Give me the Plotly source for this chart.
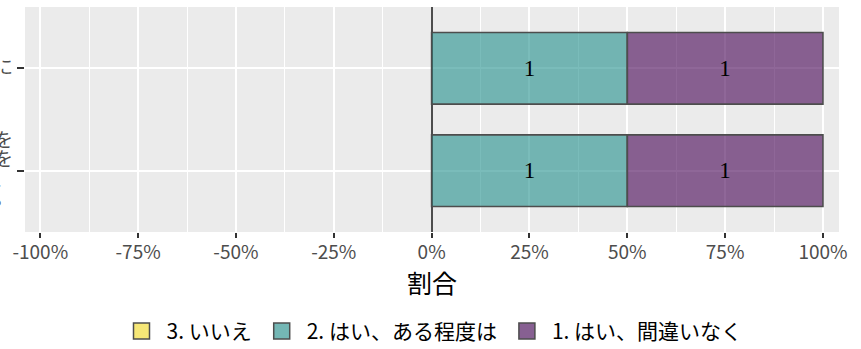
import plotly.graph_objects as go

# ---- data ----
categories = [
    "この研究の目的と内容について十分な説明を<br>受け、研究への参加に同意して、データを<br>提供することについて了承する、<br>最後までお読みください。",
    "この研究について十分な説明を受けたうえで、参加することに",
]
levels = ["3. いいえ", "2. はい、ある程度は", "1. はい、間違いなく"]
counts = {
    "3. いいえ": [0, 0],
    "2. はい、ある程度は": [1, 1],
    "1. はい、間違いなく": [1, 1],
}
colors = {
    "3. いいえ": "rgba(253,231,37,0.6)",
    "2. はい、ある程度は": "rgba(33,144,140,0.6)",
    "1. はい、間違いなく": "rgba(68,1,84,0.6)",
}
legend_colors = {
    "3. いいえ": "#F6E777",
    "2. はい、ある程度は": "#74B7B5",
    "1. はい、間違いなく": "#876092",
}
x_ticks = [-100, -75, -50, -25, 0, 25, 50, 75, 100]
x_ticklabels = ["-100%", "-75%", "-50%", "-25%", "0%", "25%", "50%", "75%", "100%"]

totals = [sum(counts[l][i] for l in levels) for i in range(len(categories))]
pct = {l: [100 * c / t for c, t in zip(counts[l], totals)] for l in levels}

font_jp = "Noto Sans CJK JP"
fig = go.Figure()

# positive stacking: level 2 first (next to zero), then level 1
for lvl in ["2. はい、ある程度は", "1. はい、間違いなく"]:
    fig.add_trace(go.Bar(
        y=categories, x=pct[lvl], orientation="h", width=0.7,
        marker=dict(color=colors[lvl], line=dict(color="#4D4D4D", width=1.6)),
        text=[str(c) for c in counts[lvl]], textposition="inside",
        insidetextanchor="middle", constraintext="none",
        textfont=dict(family="Liberation Serif", size=23, color="black"),
        showlegend=False, hoverinfo="skip",
    ))
# negative side (いいえ) - zero width here
fig.add_trace(go.Bar(
    y=categories, x=[-v for v in pct["3. いいえ"]], orientation="h", width=0.7,
    base=0,
    marker=dict(color=colors["3. いいえ"], line=dict(color="#4D4D4D", width=0)),
    showlegend=False, hoverinfo="skip",
))

# legend entries
for lvl in levels:
    fig.add_trace(go.Scatter(
        x=[None], y=[None], mode="markers", name=lvl,
        marker=dict(symbol="square", size=22, color=legend_colors[lvl],
                    line=dict(color="#4D4D4D", width=1.5)),
        showlegend=True,
    ))

ytext = [f'<span style="font-size:19px">{c}</span>' for c in categories]

fig.update_layout(
    barmode="relative",
    width=861, height=349,
    margin=dict(l=25, r=22, t=7, b=117, autoexpand=False),
    paper_bgcolor="white", plot_bgcolor="#EBEBEB",
    font=dict(family=font_jp, color="#4D4D4D"),
    legend=dict(orientation="h", x=0.5, xanchor="center", y=-0.35, yanchor="top",
                font=dict(size=21, color="black", family=font_jp),
                itemsizing="trace", traceorder="normal", itemwidth=40),
    showlegend=True,
)
fig.update_xaxes(
    range=[-103.9, 104.1], tickvals=x_ticks, ticktext=x_ticklabels,
    showgrid=True, gridcolor="white", gridwidth=1.5,
    minor=dict(dtick=25, tick0=12.5, showgrid=True, gridcolor="white", gridwidth=0.7),
    zeroline=True, zerolinecolor="#4D4D4D", zerolinewidth=2,
    ticks="outside", ticklen=5, tickcolor="#333333", tickwidth=1.5,
    tickfont=dict(size=19, color="#4D4D4D"), ticklabelstandoff=-2,
    title=dict(text="割合", font=dict(size=25, color="black"), standoff=1),
    automargin=False, fixedrange=True,
)
fig.update_yaxes(
    type="category", categoryorder="array", categoryarray=categories,
    tickvals=categories, ticktext=ytext,
    range=[-0.6, 1.6],
    showgrid=True, gridcolor="white", gridwidth=1.5, zeroline=False,
    ticks="outside", ticklen=7, tickcolor="#333333", tickwidth=1.5,
    tickfont=dict(size=15, color="#4D4D4D"), ticklabelstandoff=1,
    automargin=False, fixedrange=True,
)

fig.write_html(
    "out.html",
    config={"displayModeBar": False},
    post_script="document.body.style.margin='0';document.body.style.overflow='hidden';",
)
